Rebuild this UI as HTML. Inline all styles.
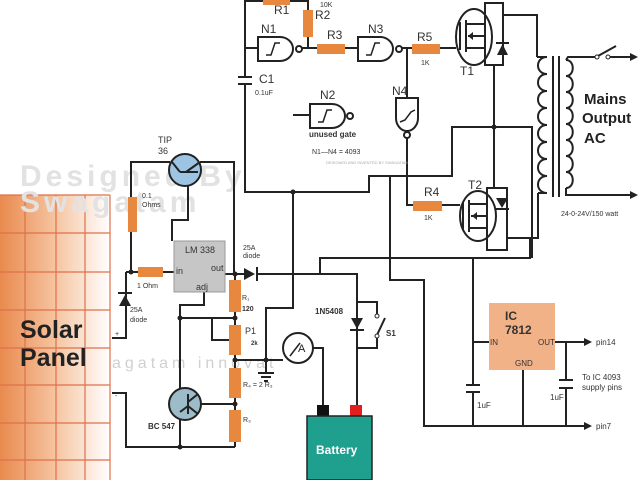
<!DOCTYPE html>
<html><head><meta charset="utf-8"><style>
html,body{margin:0;padding:0;background:#fff;width:640px;height:480px;overflow:hidden}
svg{display:block}
text{font-family:"Liberation Sans",sans-serif}
</style></head><body>
<svg width="640" height="480" viewBox="0 0 640 480" xmlns="http://www.w3.org/2000/svg">
<defs>
<linearGradient id="sp" x1="0" x2="1" y1="0" y2="0">
<stop offset="0" stop-color="#e98a4e"/><stop offset="0.5" stop-color="#f5c4a0"/><stop offset="1" stop-color="#fff"/>
</linearGradient>
</defs>
<rect x="0" y="195" width="110" height="285" fill="url(#sp)"/>
<g stroke="#e0704a" stroke-width="1.2">
<line x1="25" y1="195" x2="25" y2="480"/><line x1="56" y1="195" x2="56" y2="480"/><line x1="85" y1="195" x2="85" y2="480"/><line x1="110" y1="195" x2="110" y2="480"/>
<line x1="0" y1="195" x2="110" y2="195"/><line x1="0" y1="233" x2="110" y2="233"/><line x1="0" y1="272" x2="110" y2="272"/><line x1="0" y1="310" x2="110" y2="310"/><line x1="0" y1="348" x2="110" y2="348"/><line x1="0" y1="385" x2="110" y2="385"/><line x1="0" y1="423" x2="110" y2="423"/><line x1="0" y1="460" x2="110" y2="460"/>
</g>
<text x="20" y="338" font-size="25" font-weight="bold" fill="#222">Solar</text>
<text x="20" y="366" font-size="25" font-weight="bold" fill="#222">Panel</text>
<text x="20" y="186" font-size="30" font-weight="bold" fill="#e2e2e2" letter-spacing="4">Designed By</text>
<text x="20" y="212" font-size="30" font-weight="bold" fill="#e2e2e2" letter-spacing="4">Swagatam</text>
<text x="112" y="368" font-size="16" fill="#d0d0d0" letter-spacing="4">agatam innovat</text>

<g stroke="#222" stroke-width="2" fill="none">
<polyline points="131,197 131,162 170,162"/>
<polyline points="200,162 234,162 234,274"/>
<polyline points="188,184 188,220 172,220 172,241"/>
<line x1="131" y1="232" x2="131" y2="272"/>
<line x1="126" y1="272" x2="138" y2="272"/>
<line x1="163" y1="272" x2="175" y2="272"/>
<polyline points="126,272 126,338 112,338"/>
<polyline points="112,393 126,393 126,447 235,447"/>
<polyline points="204,292 204,305 180,305 180,447"/>
<line x1="180" y1="318" x2="235" y2="318"/>
<polyline points="212,318 212,340 229,340"/>
<line x1="235" y1="274" x2="235" y2="447"/>
<line x1="225" y1="274" x2="244" y2="274"/>
<polyline points="258,274 357,274 357,405"/>
<polyline points="320,274 320,258 530,258 530,238"/>
<polyline points="192,404 235,404"/>
<line x1="235" y1="360" x2="283" y2="360"/>
<polyline points="266,360 266,308 293,308 293,192"/>
<line x1="266" y1="360" x2="266" y2="372"/>
<line x1="258" y1="373" x2="274" y2="373"/><line x1="261" y1="377" x2="271" y2="377"/><line x1="264" y1="381" x2="268" y2="381"/>
<polyline points="313,348 323,348 323,405"/>
<polyline points="357,302 377,302 377,315"/>
<polyline points="357,348 377,348 377,336"/>
<polyline points="245,0 245,77"/>
<polyline points="245,85 245,192 369,192 369,176 452,176 452,127 532,127 532,258"/>
<line x1="245" y1="48" x2="258" y2="48"/>
<line x1="238" y1="77" x2="252" y2="77"/><line x1="238" y1="84" x2="252" y2="84"/>
<polyline points="245,1 263,1"/><polyline points="290,1 308,1 308,10"/>
<polyline points="302,48 317,48"/><line x1="308" y1="37" x2="308" y2="48"/>
<line x1="345" y1="48" x2="358" y2="48"/>
<line x1="402" y1="48" x2="412" y2="48"/>
<line x1="440" y1="48" x2="456" y2="48"/>
<line x1="407" y1="48" x2="407" y2="98"/>
<polyline points="293,115 310,115"/>
<polyline points="407,138 407,205 413,205"/>
<polyline points="442,205 460,205"/>
<polyline points="390,176 390,280 424,280 424,426 585,426"/>
<rect x="485" y="3" width="18" height="62"/>
<rect x="487" y="188" width="20" height="62"/>
<line x1="494" y1="65" x2="494" y2="188"/>
<polyline points="503,15 537,15 537,57"/>
<polyline points="507,238 538,238 538,193"/>
<line x1="473" y1="258" x2="473" y2="385"/>
<line x1="466" y1="385" x2="480" y2="385"/><line x1="466" y1="392" x2="480" y2="392"/>
<line x1="473" y1="392" x2="473" y2="426"/>
<line x1="473" y1="342" x2="489" y2="342"/>
<line x1="555" y1="342" x2="585" y2="342"/>
<line x1="566" y1="342" x2="566" y2="380"/>
<line x1="559" y1="380" x2="573" y2="380"/><line x1="559" y1="388" x2="573" y2="388"/>
<line x1="566" y1="388" x2="566" y2="426"/>
<line x1="523" y1="370" x2="523" y2="426"/>
<path d="M547 57 c-12 0 -12 17 0 17 c-12 0 -12 17 0 17 c-12 0 -12 17 0 17 c-12 0 -12 17 0 17 c-12 0 -12 17 0 17 c-12 0 -12 17 0 17 c-12 0 -12 17 0 17 c-12 0 -12 17 0 17"/>
<line x1="537" y1="57" x2="547" y2="57"/>
<line x1="538" y1="193" x2="547" y2="193"/>
<line x1="553" y1="56" x2="553" y2="197"/><line x1="559" y1="56" x2="559" y2="197"/>
<path d="M566 60 c9 0 9 16 0 16 c9 0 9 16 0 16 c9 0 9 16 0 16 c9 0 9 16 0 16 c9 0 9 16 0 16 c9 0 9 16 0 16 c9 0 9 16 0 16 c9 0 9 16 0 16"/>
<polyline points="566,60 568,57 596,57"/>
<polyline points="566,188 566,195 632,195"/>
<line x1="598" y1="56" x2="616" y2="46"/>
<line x1="610" y1="57" x2="632" y2="57"/>
</g>
<g fill="#222">
<polygon points="638,57 630,53 630,61"/><polygon points="638,195 630,191 630,199"/>
<polygon points="592,342 584,338 584,346"/><polygon points="592,426 584,422 584,430"/>
<circle cx="293" cy="192" r="2.5"/><circle cx="235" cy="318" r="2.5"/><circle cx="180" cy="318" r="2.5"/><circle cx="235" cy="360" r="2.5"/><circle cx="266" cy="360" r="2.5"/><circle cx="235" cy="404" r="2.5"/><circle cx="180" cy="447" r="2.5"/><circle cx="235" cy="274" r="2.5"/><circle cx="131" cy="272" r="2.5"/><circle cx="494" cy="127" r="2.5"/>
</g>
<circle cx="597" cy="57" r="2" fill="#fff" stroke="#222"/><circle cx="608" cy="57" r="2" fill="#fff" stroke="#222"/>
<g fill="#e8883e">
<rect x="128" y="197" width="9" height="35"/>
<rect x="138" y="267" width="25" height="10"/>
<rect x="229" y="280" width="12" height="32"/>
<rect x="229" y="325" width="12" height="30"/>
<rect x="229" y="368" width="12" height="30"/>
<rect x="229" y="410" width="12" height="32"/>
<rect x="263" y="0" width="27" height="5"/>
<rect x="303" y="10" width="10" height="27"/>
<rect x="317" y="44" width="28" height="10"/>
<rect x="412" y="44" width="28" height="10"/>
<rect x="413" y="201" width="29" height="10"/>
</g>
<circle cx="185" cy="170" r="16" fill="#9ec4e4" stroke="#222" stroke-width="2"/>
<path d="M172 162 L180 172 M180 172 L198 172 M186 172 L200 162" stroke="#222" stroke-width="2" fill="none"/>
<circle cx="185" cy="404" r="16" fill="#9bbcc8" stroke="#222" stroke-width="2"/>
<path d="M188 394 V414 M188 402 L198 394 M188 406 L198 414 M180 412 L188 406" stroke="#222" stroke-width="2" fill="none"/>
<rect x="174" y="241" width="51" height="51" fill="#c6c6c6" stroke="#999"/>
<text x="185" y="253" font-size="9" fill="#333">LM 338</text>
<text x="176" y="274" font-size="9" fill="#333">in</text>
<text x="211" y="271" font-size="9" fill="#333">out</text>
<text x="196" y="290" font-size="9" fill="#333">adj</text>
<polygon points="244,268 244,280 255,274" fill="#222"/><line x1="257" y1="267" x2="257" y2="281" stroke="#222" stroke-width="2"/>
<polygon points="119,306 131,306 125,295" fill="#222"/><line x1="118" y1="293" x2="132" y2="293" stroke="#222" stroke-width="2"/>
<polygon points="351,318 363,318 357,329" fill="#222"/><line x1="350" y1="330" x2="364" y2="330" stroke="#222" stroke-width="2"/>
<line x1="377" y1="335" x2="385" y2="318" stroke="#222" stroke-width="2"/>
<circle cx="377" cy="316" r="2" fill="#fff" stroke="#222"/><circle cx="377" cy="336" r="2" fill="#fff" stroke="#222"/>
<circle cx="298" cy="348" r="15" fill="#fff" stroke="#222" stroke-width="2"/>
<line x1="290" y1="356" x2="300" y2="343" stroke="#222" stroke-width="1.5"/>
<text x="298" y="352" font-size="11" fill="#222">A</text>
<rect x="317" y="405" width="12" height="12" fill="#111"/>
<rect x="350" y="405" width="12" height="12" fill="#e02020"/>
<rect x="307" y="416" width="65" height="64" fill="#1fa08e" stroke="#222" stroke-width="1.5"/>
<text x="316" y="454" font-size="12" font-weight="bold" fill="#fff">Battery</text>
<g stroke="#222" stroke-width="2" fill="#fff">
<path d="M258 37 H280 A13 12 0 0 1 280 61 H258 Z"/><circle cx="299" cy="49" r="3"/>
<path d="M358 37 H380 A13 12 0 0 1 380 61 H358 Z"/><circle cx="399" cy="49" r="3"/>
<path d="M310 104 H332 A13 12 0 0 1 332 128 H310 Z"/><circle cx="350" cy="116" r="3"/>
<path d="M396 98 H418 V118 A11 13 0 0 1 396 118 Z"/><circle cx="407" cy="135" r="3"/>
</g>
<g stroke="#222" stroke-width="1.5" fill="none">
<path d="M266 55 h5 l4 -12 h5"/><path d="M366 55 h5 l4 -12 h5"/><path d="M318 122 h5 l4 -12 h5"/><path d="M400 122 l5 -2 l6 -8 l4 -2"/>
</g>
<g stroke="#222" stroke-width="2" fill="none">
<ellipse cx="474" cy="37" rx="18" ry="28"/>
<ellipse cx="478" cy="216" rx="18" ry="25"/>
<line x1="460" y1="22" x2="460" y2="50"/><line x1="466" y1="20" x2="466" y2="52"/>
<polyline points="466,24 485,24"/><polyline points="466,48 485,48"/><line x1="468" y1="36" x2="485" y2="36"/>
<line x1="463" y1="202" x2="463" y2="230"/><line x1="469" y1="200" x2="469" y2="232"/>
<polyline points="469,204 487,204"/><polyline points="469,228 487,228"/><line x1="471" y1="216" x2="487" y2="216"/>
</g>
<polygon points="473,32 473,40 468,36" fill="#222"/>
<polygon points="477,212 477,220 472,216" fill="#222"/>
<polygon points="497,55 508,55 502.5,44" fill="#222"/><line x1="496" y1="43" x2="509" y2="43" stroke="#222" stroke-width="2"/>
<polygon points="496,198 508,198 502,208" fill="#222"/><line x1="495" y1="209" x2="509" y2="209" stroke="#222" stroke-width="2"/>
<rect x="489" y="303" width="66" height="67" fill="#f2b287"/>
<text x="505" y="320" font-size="12" font-weight="bold" fill="#333">IC</text>
<text x="505" y="334" font-size="12" font-weight="bold" fill="#333">7812</text>
<text x="490" y="345" font-size="8" fill="#333">IN</text>
<text x="538" y="345" font-size="8" fill="#333">OUT</text>
<text x="515" y="366" font-size="8" fill="#333">GND</text>
<g font-size="9" fill="#333">
<text x="158" y="143">TIP</text><text x="158" y="154">36</text>
<text x="142" y="198" font-size="7">0.1</text><text x="142" y="207" font-size="7">Ohms</text>
<text x="137" y="288" font-size="7">1 Ohm</text>
<text x="130" y="312" font-size="7">25A</text><text x="130" y="322" font-size="7">diode</text>
<text x="243" y="250" font-size="7">25A</text><text x="243" y="258" font-size="7">diode</text>
<text x="242" y="300" font-size="7">R₁</text>
<text x="242" y="311" font-size="7" font-weight="bold">120</text>
<text x="245" y="334">P1</text><text x="251" y="345" font-size="6" font-weight="bold">2k</text>
<text x="243" y="387" font-size="7">R₄ = 2 R₃</text>
<text x="243" y="422" font-size="7">R₃</text>
<text x="148" y="429" font-size="8" font-weight="bold">BC 547</text>
<text x="315" y="314" font-size="8" font-weight="bold">1N5408</text>
<text x="386" y="336" font-size="8" font-weight="bold">S1</text>
<text x="115" y="336" font-size="7">+</text><text x="115" y="398" font-size="7">-</text>
<text x="274" y="14" font-size="12">R1</text><text x="315" y="19" font-size="12">R2</text><text x="320" y="7" font-size="7">10K</text>
<text x="261" y="33" font-size="12">N1</text><text x="327" y="39" font-size="12">R3</text>
<text x="368" y="33" font-size="12">N3</text><text x="417" y="41" font-size="12">R5</text><text x="421" y="65" font-size="7">1K</text>
<text x="259" y="83" font-size="12">C1</text><text x="255" y="95" font-size="7">0.1uF</text>
<text x="320" y="99" font-size="12">N2</text><text x="309" y="137" font-size="8" font-weight="bold">unused gate</text>
<text x="312" y="154" font-size="7">N1—N4 = 4093</text>
<text x="326" y="164" font-size="4" fill="#aaa">DESIGNED AND INVENTED BY SWAGATAM</text>
<text x="392" y="95" font-size="12">N4</text>
<text x="460" y="75" font-size="12">T1</text><text x="468" y="189" font-size="12">T2</text>
<text x="424" y="196" font-size="12">R4</text><text x="424" y="220" font-size="7">1K</text>
<text x="561" y="216" font-size="7">24-0-24V/150 watt</text>
<text x="584" y="104" font-size="15" font-weight="bold" fill="#222">Mains</text>
<text x="582" y="123" font-size="15" font-weight="bold" fill="#222">Output</text>
<text x="584" y="143" font-size="15" font-weight="bold" fill="#222">AC</text>
<text x="596" y="345" font-size="8">pin14</text><text x="596" y="429" font-size="8">pin7</text>
<text x="582" y="380" font-size="8">To IC 4093</text><text x="582" y="390" font-size="8">supply pins</text>
<text x="477" y="408" font-size="8">1uF</text><text x="550" y="400" font-size="8">1uF</text>
</g>
</svg>
</body></html>
